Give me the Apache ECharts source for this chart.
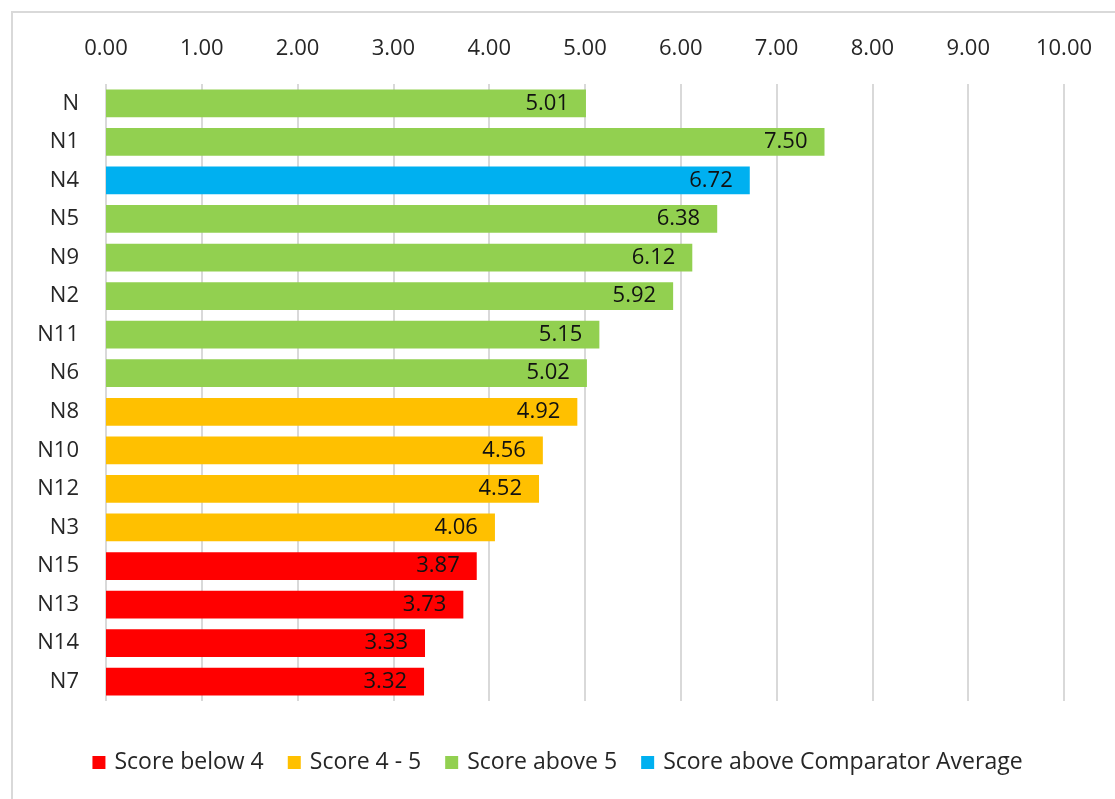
<!DOCTYPE html>
<html>
<head>
<meta charset="utf-8">
<script src="https://cdn.jsdelivr.net/npm/echarts@6/dist/echarts.min.js"></script>
<style>
  html, body { margin: 0; padding: 0; background: #fff; }
  #chart { width: 1115px; height: 799px; }
</style>
</head>
<body>
<div id="chart"></div>
<script>
// Scores per item, top to bottom
const categories = ['N', 'N1', 'N4', 'N5', 'N9', 'N2', 'N11', 'N6', 'N8', 'N10', 'N12', 'N3', 'N15', 'N13', 'N14', 'N7'];
const scores = [5.01, 7.50, 6.72, 6.38, 6.12, 5.92, 5.15, 5.02, 4.92, 4.56, 4.52, 4.06, 3.87, 3.73, 3.33, 3.32];
// Band each item belongs to (index into groupNames)
const groups = [2, 2, 3, 2, 2, 2, 2, 2, 1, 1, 1, 1, 0, 0, 0, 0];
const groupNames = ['Score below 4', 'Score 4 - 5', 'Score above 5', 'Score above Comparator Average'];
const groupColors = ['#ff0000', '#ffc000', '#92d050', '#00b0f0'];
const xTicks = [0, 1, 2, 3, 4, 5, 6, 7, 8, 9, 10];

const font = 'Open Sans';
const textColor = '#262626';

const series = groupNames.map((name, g) => ({
  name: name,
  type: 'bar',
  stack: 'score',
  barWidth: '72%',
  itemStyle: { color: groupColors[g] },
  label: {
    show: true,
    position: 'insideRight',
    color: '#111',
    fontFamily: font,
    fontSize: 22,
    distance: 17,
    formatter: p => p.value.toFixed(2)
  },
  data: scores.map((v, i) => groups[i] === g ? v : '-')
}));

const chart = echarts.init(document.getElementById('chart'));
chart.setOption({
  animation: false,
  textStyle: { fontFamily: font },
  graphic: [{
    type: 'rect',
    shape: { x: 12, y: 12, width: 1120, height: 800 },
    style: { fill: null, stroke: '#d9d9d9', lineWidth: 2 }
  }],
  grid: { left: 106, right: 51, top: 84, bottom: 98, containLabel: false },
  legend: {
    bottom: 20,
    left: 'center',
    itemWidth: 13,
    itemHeight: 13,
    itemGap: 24,
    icon: 'rect',
    textStyle: { fontFamily: font, fontSize: 23, color: textColor, padding: [0, 0, 0, 4] },
    data: groupNames
  },
  xAxis: {
    type: 'value',
    position: 'top',
    min: 0,
    max: 10,
    interval: 1,
    axisLine: { show: false },
    axisTick: { show: false },
    axisLabel: {
      fontFamily: font,
      fontSize: 22,
      color: textColor,
      margin: 24,
      formatter: v => xTicks.includes(v) ? v.toFixed(2) : ''
    },
    splitLine: { show: true, lineStyle: { color: '#d9d9d9', width: 2 } }
  },
  yAxis: {
    type: 'category',
    inverse: true,
    data: categories,
    axisLine: { show: false },
    axisTick: { show: false },
    axisLabel: { fontFamily: font, fontSize: 22, color: textColor, margin: 27 }
  },
  series: series
});
</script>
</body>
</html>
